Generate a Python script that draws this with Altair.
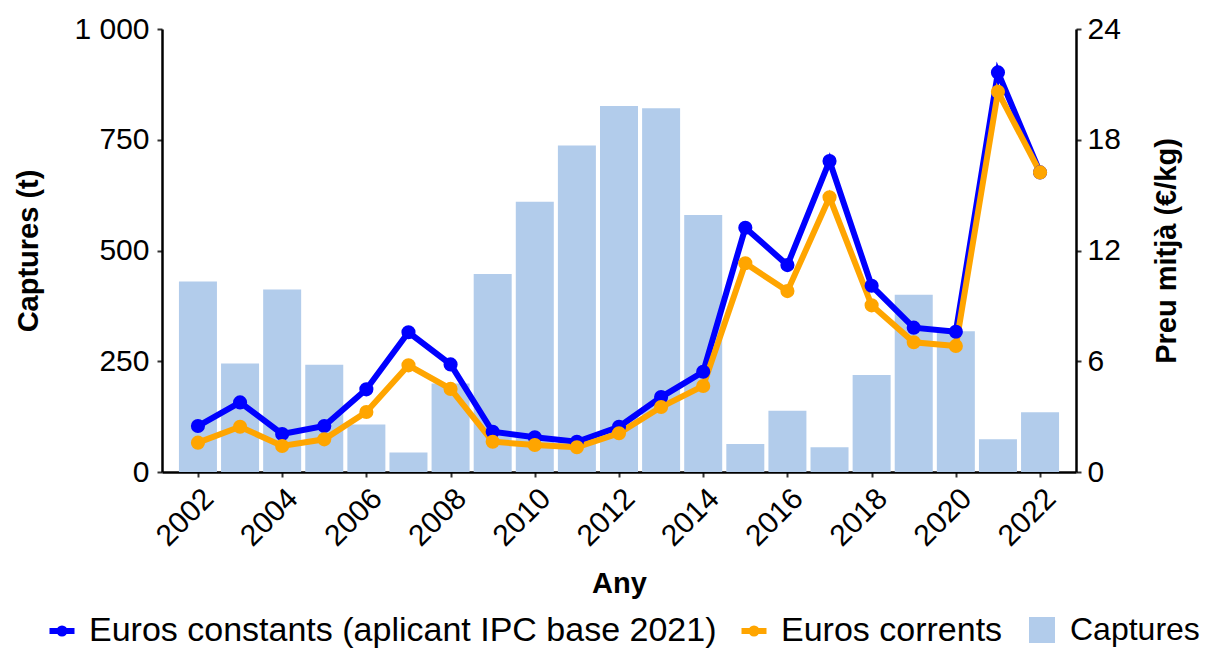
import altair as alt
import pandas as pd

years = list(range(2002, 2023))
captures = [430, 245, 412, 242, 107, 44, 200, 447, 610, 737, 826, 821, 580, 63, 138, 56, 219, 400, 318, 74, 135]
euros_constants = [2.49, 3.77, 2.06, 2.49, 4.48, 7.57, 5.83, 2.18, 1.88, 1.64, 2.45, 4.06, 5.43, 13.23, 11.21, 16.85, 10.09, 7.82, 7.60, 21.65, 16.23]
euros_corrents = [1.59, 2.45, 1.41, 1.77, 3.25, 5.78, 4.50, 1.64, 1.46, 1.34, 2.10, 3.52, 4.66, 11.31, 9.80, 14.88, 9.03, 7.03, 6.83, 20.60, 16.23]

lab_const = "Euros constants (aplicant IPC base 2021)"
lab_curr = "Euros corrents"
lab_capt = "Captures"

FONT = "Liberation Sans"

bars_df = pd.DataFrame({"year": years, "captures": captures, "serie": lab_capt})
lines_df = pd.concat([
    pd.DataFrame({"year": years, "preu": euros_constants, "serie": lab_const}),
    pd.DataFrame({"year": years, "preu": euros_corrents, "serie": lab_curr}),
])

x_enc = alt.X(
    "year:Q",
    scale=alt.Scale(domain=[2001.265, 2022.735], nice=False, zero=False),
    axis=alt.Axis(values=list(range(2002, 2023, 2)), format="d", labelAngle=-45,
                  labelAlign="right", labelBaseline="top", labelPadding=6,
                  title="Any", titlePadding=18),
)

bars = alt.Chart(bars_df).mark_bar(size=38).encode(
    x=x_enc,
    y=alt.Y("captures:Q", scale=alt.Scale(domain=[0, 1000], nice=False),
            axis=alt.Axis(values=[0, 250, 500, 750, 1000], title="Captures (t)",
                          labelExpr="replace(format(datum.value, ','), ',', ' ')",
                          labelPadding=8, titlePadding=30, orient="left")),
    fill=alt.Fill("serie:N", scale=alt.Scale(domain=[lab_capt], range=["#B2CCEB"]),
                  legend=alt.Legend(orient="none", legendX=864, legendY=585, title=None,
                                    symbolType="square", symbolSize=676, symbolStrokeWidth=0,
                                    labelFontSize=32, labelFont=FONT, labelOffset=12,
                                    labelLimit=1000, labelColor="black")),
)

line_symbol = "M-1,0L1,0M-0.2,0A0.2,0.2 0 1 1 0.2,0A0.2,0.2 0 1 1 -0.2,0"

lines = alt.Chart(lines_df).mark_line(point=alt.OverlayMarkDef(size=200, filled=True, opacity=1),
                                      strokeWidth=6).encode(
    x=x_enc,
    y=alt.Y("preu:Q", scale=alt.Scale(domain=[0, 24], nice=False),
            axis=alt.Axis(values=[0, 6, 12, 18, 24], title="Preu mitjà (€/kg)", orient="right",
                          labelPadding=6, titlePadding=32, titleAngle=270, titleBaseline="top")),
    color=alt.Color("serie:N", scale=alt.Scale(domain=[lab_const, lab_curr], range=["#0000FF", "#FFA500"]),
                    legend=alt.Legend(orient="none", legendX=-117, legendY=585, direction="horizontal",
                                      title=None, symbolType=line_symbol, symbolSize=625,
                                      symbolStrokeWidth=6, labelFontSize=34, labelFont=FONT,
                                      labelOffset=10, columnPadding=12, labelLimit=1000,
                                      labelColor="black")),
)

chart = alt.layer(bars, lines).resolve_scale(y="independent", color="independent", fill="independent").properties(
    width=914,
    height=443,
    autosize=alt.AutoSizeParams(type="none"),
    padding={"left": 154, "top": 21, "right": 126, "bottom": 176},
).configure_view(stroke=None).configure_axis(
    grid=False,
    domainColor="black",
    domainWidth=2.5,
    tickColor="#333333",
    tickWidth=2,
    tickSize=5,
    labelColor="black",
    labelFont=FONT,
    labelFontSize=30,
    titleColor="black",
    titleFont=FONT,
    titleFontSize=29,
    titleFontWeight="bold",
).configure_legend(padding=0)

chart.save("out.html", embed_options={"renderer": "svg", "actions": False})
